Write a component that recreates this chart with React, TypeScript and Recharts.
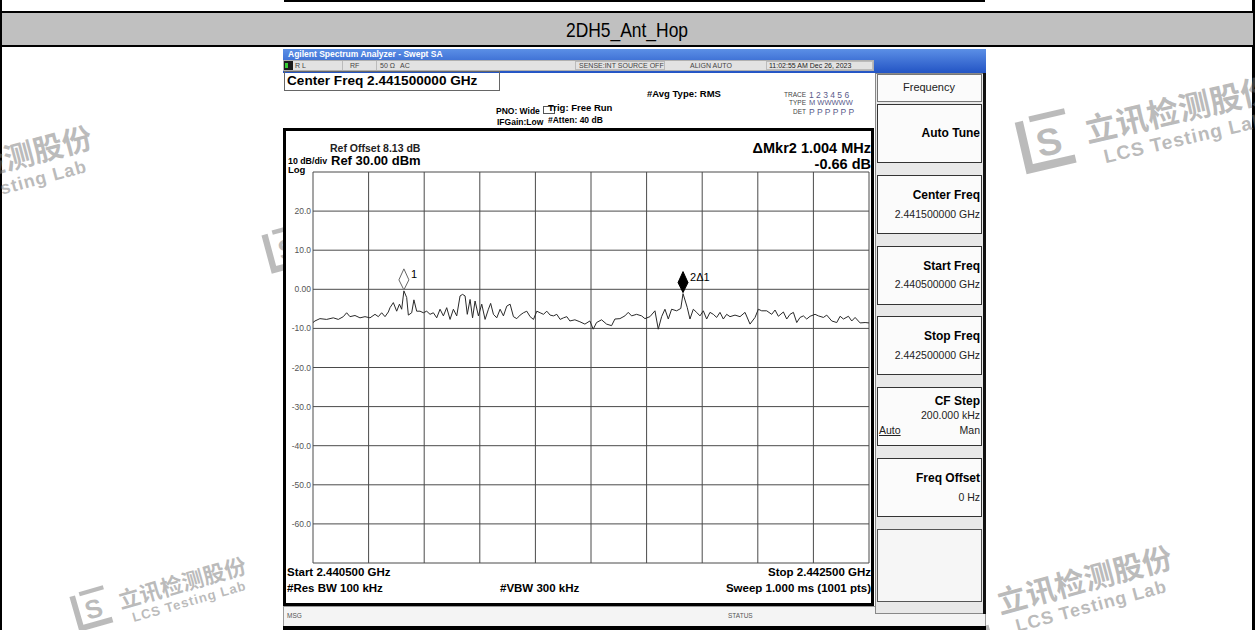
import { LineChart, Line, XAxis, YAxis, CartesianGrid, ReferenceDot } from "recharts";

// trace: offset from start freq (kHz) and level (dBm)
const FREQ_KHZ = [
  0, 7, 25, 49, 73, 91, 109, 121, 133, 151, 169, 187, 205, 223, 235, 247, 259, 271, 277, 289,
  301, 311, 319, 327, 337, 343, 355, 363, 373, 385, 397, 409, 421, 433, 445, 457, 469, 481, 493, 505,
  517, 529, 538, 547, 555, 565, 574, 583, 595, 607, 619, 631, 639, 649, 661, 673, 685, 697, 709, 721,
  733, 745, 757, 769, 781, 793, 805, 817, 829, 841, 853, 865, 877, 889, 901, 913, 924, 942, 960, 978,
  996, 1008, 1020, 1038, 1056, 1074, 1086, 1104, 1122, 1134, 1146, 1164, 1182, 1194, 1212, 1230, 1242, 1254, 1266, 1278,
  1290, 1308, 1323, 1331, 1346, 1356, 1368, 1380, 1392, 1404, 1416, 1428, 1440, 1452, 1464, 1476, 1488, 1500, 1518, 1536,
  1554, 1572, 1590, 1602, 1614, 1632, 1650, 1662, 1674, 1692, 1704, 1716, 1728, 1740, 1752, 1764, 1776, 1788, 1806, 1818,
  1836, 1848, 1866, 1884, 1896, 1908, 1926, 1938, 1950, 1968, 1986, 2000,
];
const LEVEL_DB = [
  -8.5, -8.1, -7.5, -7.7, -7.3, -7.7, -7.0, -6.0, -7.0, -6.7, -7.3, -7.0, -7.3, -6.4, -7.0, -6.0, -7.0, -5.8, -4.7, -3.4,
  -5.6, -3.8, -5.1, -0.4, -2.1, -6.6, -6.0, -2.7, -5.6, -5.6, -6.0, -5.6, -6.4, -6.0, -7.3, -5.1, -6.8, -4.7, -7.7, -5.1,
  -6.8, -1.7, -1.3, -1.7, -6.4, -2.6, -7.3, -3.0, -6.8, -3.8, -7.7, -5.1, -3.6, -6.4, -7.3, -5.1, -6.8, -4.3, -3.8, -7.0,
  -7.5, -6.6, -6.0, -5.6, -7.0, -7.7, -5.6, -6.0, -6.4, -5.6, -6.6, -6.8, -6.4, -7.7, -7.3, -7.0, -8.1, -7.8, -8.3, -8.9,
  -8.1, -10.2, -8.5, -7.8, -8.9, -9.3, -7.6, -7.5, -6.8, -5.9, -6.8, -6.4, -6.8, -7.5, -7.0, -5.5, -10.2, -7.0, -5.1, -7.6,
  -5.1, -5.5, -4.9, -1.1, -4.6, -7.6, -5.1, -5.9, -6.8, -5.5, -7.6, -5.9, -6.4, -7.2, -5.9, -7.6, -6.4, -7.0, -6.6, -7.0,
  -5.9, -8.9, -7.2, -5.1, -5.5, -5.5, -6.4, -5.3, -6.9, -5.8, -7.6, -6.4, -5.9, -8.5, -7.2, -6.8, -7.6, -6.9, -6.4, -6.8,
  -7.2, -6.6, -8.1, -8.5, -6.9, -7.6, -6.9, -8.1, -7.2, -8.6, -8.5, -8.6,
];
const Y_TICKS = [30, 20, 10, 0, -10, -20, -30, -40, -50, -60, -70];
const X_TICKS = [0, 200, 400, 600, 800, 1000, 1200, 1400, 1600, 1800, 2000];
const MARKERS = [
  { label: "1", freq: 327, level: -0.4, delta: false },
  { label: "2Δ1", freq: 1331, level: -1.1, delta: true },
];
const SOFTKEYS = [
  { title: "Auto Tune", lines: [] as string[] },
  { title: "Center Freq", lines: ["2.441500000 GHz"] },
  { title: "Start Freq", lines: ["2.440500000 GHz"] },
  { title: "Stop Freq", lines: ["2.442500000 GHz"] },
  { title: "CF Step", lines: ["200.000 kHz"] },
  { title: "Freq Offset", lines: ["0 Hz"] },
];

const traceData = FREQ_KHZ.map((f, i) => ({ f, db: LEVEL_DB[i] }));

const SANS = "'Liberation Sans', Arial, sans-serif";
const WM = "rgba(120,120,120,0.5)";

function T({ x, cy, size, bold, right, color, children, family, center, sx }: any) {
  const style: any = {
    position: "absolute",
    top: cy - size / 2,
    fontSize: size,
    lineHeight: size + "px",
    fontWeight: bold ? "bold" : "normal",
    color: color || "#000",
    whiteSpace: "nowrap",
    fontFamily: family || SANS,
  };
  if (center) {
    style.left = x - 200;
    style.width = 400;
    style.textAlign = "center";
  } else if (right) style.right = 1255 - x;
  else style.left = x;
  if (sx) style.transform = `scaleX(${sx})`;
  return <div style={style}>{children}</div>;
}

function Box({ x, y, w, h, bg, border }: any) {
  return (
    <div
      style={{
        position: "absolute",
        left: x,
        top: y,
        width: w,
        height: h,
        background: bg || "transparent",
        border: border || "none",
        boxSizing: "border-box",
      }}
    />
  );
}

// (cx, cy) is the centre of the logo, text runs along the rotated line
function Watermark({ cx, cy, size, angle = -15 }: any) {
  const L = size * 1.9;
  return (
    <div
      style={{
        position: "absolute",
        left: cx,
        top: cy,
        width: 0,
        height: 0,
        transform: `rotate(${angle}deg)`,
        transformOrigin: "0 0",
        color: WM,
        whiteSpace: "nowrap",
      }}
    >
      <svg style={{ position: "absolute", left: -L / 2, top: -L / 2 }} width={L} height={L} viewBox="0 0 40 40">
        <path d="M5 4 L5 36 L36 36" stroke={WM} strokeWidth="5.5" fill="none" />
        <path d="M12 4 L36 4" stroke={WM} strokeWidth="4" fill="none" />
        <text x="13" y="30" fontSize="25" fontWeight="bold" fill={WM} fontFamily={SANS}>
          S
        </text>
      </svg>
      <div
        style={{
          position: "absolute",
          left: L / 2 + size * 0.3,
          top: -size * 0.55,
          fontSize: size,
          lineHeight: size + "px",
          fontWeight: "bold",
          fontFamily: "'Noto Sans CJK SC', sans-serif",
        }}
      >
        立讯检测股份
      </div>
      <div
        style={{
          position: "absolute",
          left: L / 2 + size * 0.7,
          top: size * 0.62,
          fontSize: size * 0.6,
          lineHeight: size * 0.6 + "px",
          fontWeight: "bold",
          fontFamily: SANS,
          letterSpacing: 1,
        }}
      >
        LCS Testing Lab
      </div>
    </div>
  );
}

function MarkerShape(props: any, label: string, filled: boolean) {
  const { cx, cy } = props;
  const b = cy - 1;
  const pts = `${cx},${b} ${cx + 5},${b - 10} ${cx},${b - 21} ${cx - 5},${b - 10}`;
  return (
    <g>
      <polygon points={pts} fill={filled ? "#000" : "#fff"} stroke={filled ? "#000" : "#666"} strokeWidth={1} />
      <text x={cx + 7} y={b - 12} fontSize={11} fontFamily={SANS} fill="#000">
        {label}
      </text>
    </g>
  );
}

function YTick(props: any) {
  const { y, payload } = props;
  const v = payload.value;
  if (v === 30 || v === -70) return <g />;
  const txt = v === 0 ? "0.00" : v.toFixed(1);
  return (
    <text x={28} y={y + 3} fontSize={8.5} fill="#555" fontFamily={SANS} textAnchor="end">
      {txt}
    </text>
  );
}

export default function App() {
  return (
    <div
      style={{
        position: "absolute",
        left: 0,
        top: 0,
        width: 1255,
        height: 630,
        overflow: "hidden",
        background: "#fff",
        fontFamily: SANS,
      }}
    >
      {/* table frame */}
      <Box x={284} y={0} w={701} h={2} bg="#000" />
      <Box x={0} y={0} w={2} h={630} bg="#000" />
      <Box x={1252} y={0} w={3} h={630} bg="#000" />
      <Box x={0} y={11} w={1255} h={36} bg="#c0c0c0" border="2px solid #000" />
      <T x={627} cy={29} size={21} center sx={0.83}>
        2DH5_Ant_Hop
      </T>

      {/* watermarks */}
      <Watermark cx={-119} cy={192} size={30} />
      <Watermark cx={1046} cy={140} size={32} angle={-13} />
      <Watermark cx={286} cy={248} size={24} />
      <Watermark cx={92} cy={608} size={22} angle={-16} />
      <Watermark cx={961} cy={612} size={30} />

      {/* analyzer screen */}
      <div style={{ position: "absolute", left: 283, top: 49, width: 703, height: 581, background: "#fff" }} />
      <div
        style={{
          position: "absolute",
          left: 283,
          top: 49,
          width: 703,
          height: 24,
          background: "linear-gradient(#5b8fe6, #2354c4)",
        }}
      />
      <div style={{ position: "relative" }}>
        <T x={288} cy={54} size={8.5} bold color="#fff">
          Agilent Spectrum Analyzer - Swept SA
        </T>
        {/* status row */}
        <Box x={283} y={60} w={591} h={11} bg="#e2e2e2" border="1px solid #b0b0b0" />
        <Box x={284} y={61} w={9} h={9} bg="#1a1a1a" />
        <Box x={285} y={63} w={3} h={5} bg="#3c3" />
        <T x={295} cy={65.5} size={7} color="#444">R L</T>
        <T x={350} cy={65.5} size={7} color="#444">RF</T>
        <Box x={342} y={61} w={1} h={9} bg="#bbb" />
        <Box x={376} y={61} w={1} h={9} bg="#bbb" />
        <T x={380} cy={65.5} size={7} color="#444">50 Ω</T>
        <T x={400} cy={65.5} size={7} color="#444">AC</T>
        <Box x={575} y={61} w={90} h={9} border="1px solid #bbb" />
        <T x={579} cy={65.5} size={7} color="#444">SENSE:INT  SOURCE OFF</T>
        <T x={690} cy={65.5} size={7} color="#444">ALIGN AUTO</T>
        <Box x={766} y={61} w={107} h={9} border="1px solid #bbb" />
        <T x={769} cy={65.5} size={7} color="#222">11:02:55 AM Dec 26, 2023</T>

        {/* header */}
        <Box x={284} y={71} w={216} h={20} border="1px solid #666" />
        <T x={287} cy={81} size={13.6} bold>
          Center Freq 2.441500000 GHz
        </T>
        <T x={496} cy={111} size={8.5} bold>PNO: Wide</T>
        <Box x={543} y={106} w={12} h={8} border="1px solid #555" />
        <T x={497} cy={122} size={8.5} bold>IFGain:Low</T>
        <T x={548} cy={108} size={9.5} bold>Trig: Free Run</T>
        <T x={548} cy={120} size={8.5} bold>#Atten: 40 dB</T>
        <T x={647} cy={94} size={9.5} bold>#Avg Type: RMS</T>
        <T x={806} cy={95} size={6.5} right color="#444">TRACE</T>
        <T x={809} cy={95} size={8.5} color="#5a5a8a">1 2 3 4 5 6</T>
        <T x={806} cy={103} size={6.5} right color="#444">TYPE</T>
        <T x={809} cy={103} size={7.5} color="#5a5a8a">M WWWWW</T>
        <T x={806} cy={112} size={6.5} right color="#444">DET</T>
        <T x={809} cy={112} size={8.5} color="#5a5a8a">P P P P P P</T>

        {/* main panel */}
        <Box x={283} y={128} w={591} h={478} border="3px solid #000" />
        <T x={330} cy={148} size={10.5} bold color="#222">Ref Offset 8.13 dB</T>
        <T x={288} cy={161} size={8.8} bold>10 dB/div</T>
        <T x={331} cy={160} size={13} bold>Ref 30.00 dBm</T>
        <T x={288} cy={169.5} size={9.5} bold>Log</T>
        <T x={871} cy={148} size={14.5} bold right>ΔMkr2 1.004 MHz</T>
        <T x={871} cy={164} size={14.5} bold right>-0.66 dB</T>
        <T x={287} cy={573} size={11.5} bold>Start 2.440500 GHz</T>
        <T x={287} cy={589} size={11.5} bold>#Res BW 100 kHz</T>
        <T x={500} cy={589} size={11.5} bold>#VBW 300 kHz</T>
        <T x={871} cy={573} size={11.5} bold right>Stop 2.442500 GHz</T>
        <T x={871} cy={589} size={11.5} bold right>Sweep  1.000 ms (1001 pts)</T>

        {/* msg bar */}
        <Box x={283} y={606} w={703} h={21} bg="#f4f4f4" border="1px solid #999" />
        <T x={287} cy={616} size={6.5} color="#555">MSG</T>
        <T x={728} cy={616} size={6.5} color="#555">STATUS</T>
        <Box x={283} y={626} w={703} h={4} bg="#000" />

        {/* softkey panel */}
        <Box x={875} y={73} w={111} h={541} bg="#e8e8e8" border="1px solid #888" />
        <Box x={983} y={73} w={3} h={541} bg="#111" />
        <Box x={877} y={74} w={105} h={28} bg="#fbfbfb" border="1px solid #777" />
        <T x={929} cy={87} size={11} center color="#222">Frequency</T>
        {SOFTKEYS.map((k, i) => {
          const top = 104 + i * 70.8;
          const cf = k.title === "CF Step";
          return (
            <div key={k.title}>
              <Box x={877} y={top} w={105} h={59} bg="#fbfbfb" border="1px solid #333" />
              <T x={980} cy={top + (k.lines.length === 0 ? 29 : cf ? 14 : 20)} size={12} bold right>
                {k.title}
              </T>
              {k.lines.map((l) => (
                <T key={l} x={980} cy={top + (cf ? 28 : 39)} size={10.5} right color="#222">
                  {l}
                </T>
              ))}
              {cf && (
                <>
                  <T x={879} cy={top + 43} size={10.5} color="#222">
                    <span style={{ textDecoration: "underline" }}>Auto</span>
                  </T>
                  <T x={980} cy={top + 43} size={10.5} right color="#222">Man</T>
                </>
              )}
            </div>
          );
        })}
        <Box x={877} y={529} w={105} h={73} bg="#f6f6f6" border="1px solid #555" />

        {/* trace plot */}
        <div style={{ position: "absolute", left: 283, top: 165 }}>
          <LineChart width={590} height={405} data={traceData} margin={{ top: 7, right: 4, bottom: 7, left: 0 }}>
            <CartesianGrid stroke="#4a4a4a" strokeWidth={1} />
            <XAxis type="number" dataKey="f" domain={[0, 2000]} ticks={X_TICKS} hide />
            <YAxis
              type="number"
              domain={[-70, 30]}
              ticks={Y_TICKS}
              width={30}
              axisLine={false}
              tickLine={false}
              tick={<YTick />}
              interval={0}
            />
            <Line
              type="linear"
              dataKey="db"
              stroke="#2a2a2a"
              strokeWidth={1}
              dot={false}
              isAnimationActive={false}
            />
            {MARKERS.map((m) => (
              <ReferenceDot
                key={m.label}
                x={m.freq}
                y={m.level}
                ifOverflow="visible"
                shape={(p: any) => MarkerShape(p, m.label, m.delta)}
              />
            ))}
          </LineChart>
        </div>
      </div>
    </div>
  );
}
